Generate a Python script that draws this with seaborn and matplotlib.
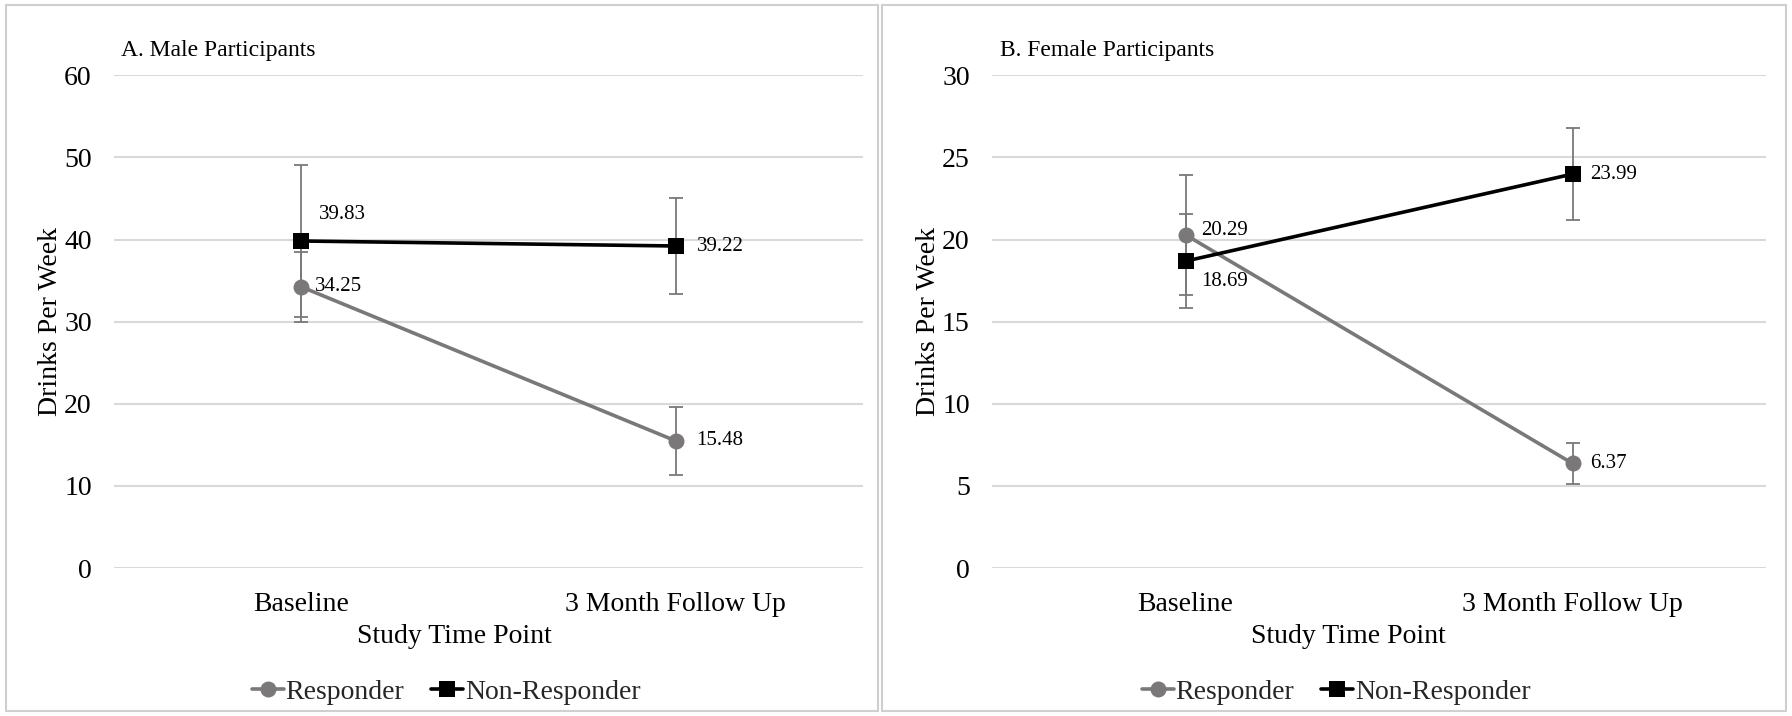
import pandas as pd
import seaborn as sns
import matplotlib.pyplot as plt
from matplotlib.patches import Rectangle
from matplotlib.lines import Line2D

# Data
timepoints = ["Baseline", "3 Month Follow Up"]
groups = ["Responder", "Non-Responder"]

male_resp = [34.25, 15.48]
male_nonresp = [39.83, 39.22]
male_resp_err = [4.3, 4.1]
male_nonresp_err = [9.3, 5.9]

female_resp = [20.29, 6.37]
female_nonresp = [18.69, 23.99]
female_resp_err = [3.65, 1.25]
female_nonresp_err = [2.85, 2.8]

panel_titles = ["A. Male Participants", "B. Female Participants"]
y_limits = [60, 30]
y_steps = [10, 5]

sns.set_theme(style="white")
plt.rcParams["font.family"] = ["Liberation Serif", "DejaVu Serif"]

colors = {"Responder": "#7a7878", "Non-Responder": "#000000"}
markers = {"Responder": "o", "Non-Responder": "s"}
err_color = "#7a7878"

fig = plt.figure(figsize=(17.92, 7.16), dpi=100)
axes = [fig.add_axes([0.0636, 0.2067, 0.418, 0.688]),
        fig.add_axes([0.5536, 0.2067, 0.4319, 0.688])]

# panel borders
fig.patches.append(Rectangle((6 / 1792, 5 / 716), 872 / 1792, 706 / 716, transform=fig.transFigure,
                             fill=False, edgecolor="#cfcfcf", linewidth=1.5))
fig.patches.append(Rectangle((882 / 1792, 5 / 716), 904 / 1792, 706 / 716, transform=fig.transFigure,
                             fill=False, edgecolor="#cfcfcf", linewidth=1.5))

panels = [
    (male_resp, male_nonresp, male_resp_err, male_nonresp_err),
    (female_resp, female_nonresp, female_resp_err, female_nonresp_err),
]

# label offsets in points (dx, dy) per panel, group, timepoint
label_offsets = [
    {"Responder": [(10, 0), (15, 0)], "Non-Responder": [(13, 19), (15, 0)]},
    {"Responder": [(11, 3), (13, 0)], "Non-Responder": [(11, -15), (13, 0)]},
]
xlabel_pos = [0.455, 0.46]

for i, ax in enumerate(axes):
    resp, nonresp, resp_err, nonresp_err = panels[i]
    df = pd.DataFrame({
        "time": timepoints * 2,
        "group": [groups[0]] * 2 + [groups[1]] * 2,
        "value": resp + nonresp,
        "err": resp_err + nonresp_err,
    })

    # error bars first so markers sit on top
    for g in groups:
        sub = df[df["group"] == g]
        ax.errorbar([0, 1], sub["value"], yerr=sub["err"], fmt="none", ecolor=err_color,
                    elinewidth=1.3, capsize=5, capthick=1.3, zorder=2)

    sns.lineplot(data=df, x="time", y="value", hue="group", style="group",
                 palette=colors, markers=markers, dashes=False, linewidth=2.6,
                 markersize=11.5, markeredgewidth=0, ax=ax, legend=False, zorder=3)

    for g in groups:
        sub = df[df["group"] == g].reset_index(drop=True)
        for j in range(2):
            dx, dy = label_offsets[i][g][j]
            ax.annotate(f"{sub.loc[j, 'value']:.2f}", (j, sub.loc[j, "value"]),
                        xytext=(dx, dy), textcoords="offset points",
                        ha="left", va="center", fontsize=15, color="black", zorder=5)

    ax.set_xlim(-0.5, 1.5)
    ax.set_ylim(0, y_limits[i])
    ax.set_yticks(range(0, y_limits[i] + 1, y_steps[i]))
    ax.yaxis.grid(True, color="#d9d9d9", linewidth=1.5)
    ax.set_axisbelow(True)
    for s in ax.spines.values():
        s.set_visible(False)
    ax.tick_params(axis="both", length=0, labelsize=20, colors="black")
    ax.tick_params(axis="x", pad=17)
    ax.tick_params(axis="y", pad=16)
    ax.set_xlabel("Study Time Point", fontsize=20, labelpad=0, color="black")
    ax.xaxis.set_label_coords(xlabel_pos[i], -0.113)
    ax.xaxis.label.set_va("top")
    ax.set_ylabel("Drinks Per Week", fontsize=20, labelpad=1, color="black")
    ax.text(0.01, 1.0 + 25 / 492, panel_titles[i], transform=ax.transAxes,
            fontsize=17, ha="left", va="center", color="black")

# legends below each panel
handles = [Line2D([0], [0], color=colors[g], marker=markers[g], linewidth=2.6,
                  markersize=11.5, markeredgewidth=0) for g in groups]
for cx in [446 / 1792, 1336 / 1792]:
    fig.legend(handles, groups, loc="center", bbox_to_anchor=(cx, 1 - 692 / 716),
               ncol=2, frameon=False, fontsize=20, handlelength=1.15, handletextpad=0.05,
               columnspacing=1.0, borderpad=0)

fig.savefig("out.png", dpi=100)
